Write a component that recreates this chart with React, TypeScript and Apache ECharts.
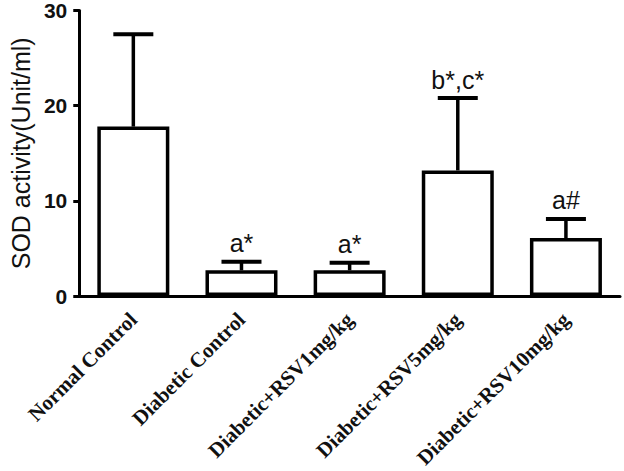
import React, { useEffect, useRef } from "react";
import * as echarts from "echarts";

const categories = [
  "Normal Control",
  "Diabetic Control",
  "Diabetic+RSV1mg/kg",
  "Diabetic+RSV5mg/kg",
  "Diabetic+RSV10mg/kg",
];
const meanValues = [17.8, 2.7, 2.7, 13.2, 6.1];
const errorTops = [27.5, 3.6, 3.5, 20.8, 8.1];
const annotations = ["", "a*", "a*", "b*,c*", "a#"];
const yTicks = [0, 10, 20, 30];

export default function App() {
  const ref = useRef<HTMLDivElement>(null);
  useEffect(() => {
    if (!ref.current) return;
    const chart = echarts.init(ref.current, undefined, { renderer: "svg" });
    const errData = categories.map((c, i) => [i, meanValues[i], errorTops[i], annotations[i]]);
    chart.setOption({
      animation: false,
      backgroundColor: "#ffffff",
      grid: { left: 70, right: 4, top: 10, bottom: 170, containLabel: false },
      xAxis: {
        type: "category",
        data: categories,
        axisLine: { lineStyle: { color: "#000", width: 3 } },
        axisTick: { alignWithLabel: true, length: 7, lineStyle: { color: "#000", width: 3 } },
        axisLabel: {
          rotate: 45,
          margin: 20,
          fontFamily: "'Liberation Serif', 'Times New Roman', serif",
          fontWeight: "bold",
          fontSize: 21,
          color: "#111",
          interval: 0,
        },
      },
      yAxis: {
        type: "value",
        min: yTicks[0],
        max: yTicks[yTicks.length - 1],
        interval: 10,
        name: "SOD activity(Unit/ml)",
        nameLocation: "middle",
        nameGap: 44,
        nameTextStyle: { fontFamily: "Arial, 'Liberation Sans', sans-serif", fontSize: 25, color: "#111" },
        axisLine: { show: true, lineStyle: { color: "#000", width: 3 } },
        axisTick: { show: true, length: 6, lineStyle: { color: "#000", width: 3 } },
        splitLine: { show: false },
        axisLabel: {
          margin: 12,
          fontFamily: "Arial, 'Liberation Sans', sans-serif",
          fontWeight: "bold",
          fontSize: 21,
          color: "#111",
        },
      },
      series: [
        {
          type: "bar",
          data: meanValues,
          barWidth: 72,
          itemStyle: { color: "#fff", borderColor: "#000", borderWidth: 3.5 },
          z: 2,
        },
        {
          type: "custom",
          data: errData,
          z: 3,
          renderItem: (params: any, api: any) => {
            const x = api.value(0);
            const top = api.coord([x, api.value(1)]);
            const high = api.coord([x, api.value(2)]);
            const label = annotations[params.dataIndex];
            const half = 20;
            const children: any[] = [
              {
                type: "line",
                shape: { x1: top[0], y1: top[1], x2: high[0], y2: high[1] },
                style: { stroke: "#000", lineWidth: 3.5 },
              },
              {
                type: "line",
                shape: { x1: high[0] - half, y1: high[1], x2: high[0] + half, y2: high[1] },
                style: { stroke: "#000", lineWidth: 4 },
              },
            ];
            if (label) {
              children.push({
                type: "text",
                x: high[0],
                y: high[1] - 6,
                style: {
                  text: label,
                  fontFamily: "Arial, 'Liberation Sans', sans-serif",
                  fontSize: 25,
                  fill: "#111",
                  align: "center",
                  verticalAlign: "bottom",
                },
              });
            }
            return { type: "group", children };
          },
        },
      ],
    });
    return () => chart.dispose();
  }, []);
  return <div ref={ref} style={{ width: 624, height: 471, position: "absolute", left: 0, top: 0 }} />;
}
